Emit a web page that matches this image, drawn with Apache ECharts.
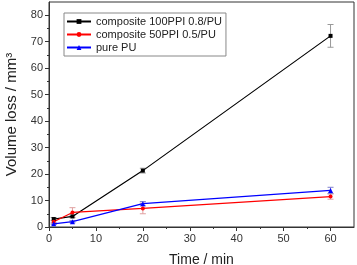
<!DOCTYPE html>
<html><head><meta charset="utf-8">
<script src="https://cdn.jsdelivr.net/npm/echarts@6/dist/echarts.min.js"></script>
<style>html,body{margin:0;padding:0;background:#fff}#c{width:357px;height:265px}</style>
</head><body><div id="c"></div>
<script>
const times = [1, 5, 20, 60];
const names = ['composite 100PPI 0.8/PU', 'composite 50PPI 0.5/PU', 'pure PU'];
const v100 = [3.0, 4.0, 21.3, 72.2];
const e100 = [0.6, 0.5, 0.9, 4.3];
const v50 = [2.0, 5.5, 7.0, 11.5];
const e50 = [0.5, 1.8, 2.0, 1.0];
const vPU = [1.2, 2.0, 8.8, 13.8];
const ePU = [0.3, 0.4, 0.8, 1.2];
const xTicks = [0, 10, 20, 30, 40, 50, 60];
const yTicks = [0, 10, 20, 30, 40, 50, 60, 70, 80];

const colors = ['#000000', '#ff0000', '#0000ff'];
const symbols = ['rect', 'circle', 'triangle'];
const vals = [v100, v50, vPU];
const errs = [e100, e50, ePU];
const errColors = ['#999999', '#e0a0a0', '#8080cc'];
const font = 'Liberation Sans, Arial, sans-serif';

const series = [];
vals.forEach((v, i) => {
  series.push({
    name: names[i], type: 'line', data: times.map((t, j) => [t, v[j]]),
    symbol: symbols[i], symbolSize: i === 2 ? 5 : 4,
    lineStyle: {color: colors[i], width: 1.2}, itemStyle: {color: colors[i]},
    z: 3
  });
  series.push({
    type: 'custom', z: 2, silent: true,
    data: times.map((t, j) => [t, v[j] - errs[i][j], v[j] + errs[i][j]]),
    renderItem: function (params, api) {
      const lo = api.coord([api.value(0), api.value(1)]);
      const hi = api.coord([api.value(0), api.value(2)]);
      const w = 3;
      const st = {stroke: errColors[i], lineWidth: 1};
      return {type: 'group', children: [
        {type: 'line', shape: {x1: lo[0], y1: lo[1], x2: hi[0], y2: hi[1]}, style: st},
        {type: 'line', shape: {x1: lo[0]-w, y1: lo[1], x2: lo[0]+w, y2: lo[1]}, style: st},
        {type: 'line', shape: {x1: hi[0]-w, y1: hi[1], x2: hi[0]+w, y2: hi[1]}, style: st}
      ]};
    }
  });
});

const chart = echarts.init(document.getElementById('c'), null, {renderer: 'canvas'});
chart.setOption({
  animation: false,
  backgroundColor: '#fff',
  grid: {left: 49, right: 3, top: 2, bottom: 38, show: true, borderColor: '#333', borderWidth: 1,
    containLabel: false, outerBoundsMode: 'none'},
  legend: {
    data: names,
    orient: 'vertical', left: 64, top: 13,
    itemWidth: 24, itemHeight: 6, itemGap: 2,
    padding: [3, 4, 3, 2],
    borderColor: '#888', borderWidth: 1, backgroundColor: '#fff',
    textStyle: {fontFamily: font, fontSize: 11, color: '#222'}
  },
  xAxis: {
    type: 'value', min: 0, max: 65, interval: 10,
    axisLine: {lineStyle: {color: '#333'}},
    axisTick: {show: true, inside: false, length: 4, lineStyle: {color: '#333'},
      customValues: xTicks},
    minorTick: {show: true, splitNumber: 2, length: 2, lineStyle: {color: '#333'}},
    axisLabel: {fontFamily: font, fontSize: 11, color: '#333', customValues: xTicks, margin: 6},
    splitLine: {show: false},
    name: 'Time / min', nameLocation: 'middle', nameGap: 26,
    nameTextStyle: {fontFamily: font, fontSize: 14, color: '#222'}
  },
  yAxis: {
    type: 'value', min: 0, max: 85, interval: 10,
    axisLine: {show: true, lineStyle: {color: '#333'}},
    axisTick: {show: true, inside: false, length: 4, lineStyle: {color: '#333'},
      customValues: yTicks},
    minorTick: {show: true, splitNumber: 2, length: 2, lineStyle: {color: '#333'}},
    axisLabel: {fontFamily: font, fontSize: 11, color: '#333', customValues: yTicks, margin: 6},
    splitLine: {show: false},
    name: 'Volume loss / mm³', nameLocation: 'middle', nameGap: 30,
    nameTextStyle: {fontFamily: font, fontSize: 15, color: '#222'}
  },
  series: series
});
</script></body></html>
